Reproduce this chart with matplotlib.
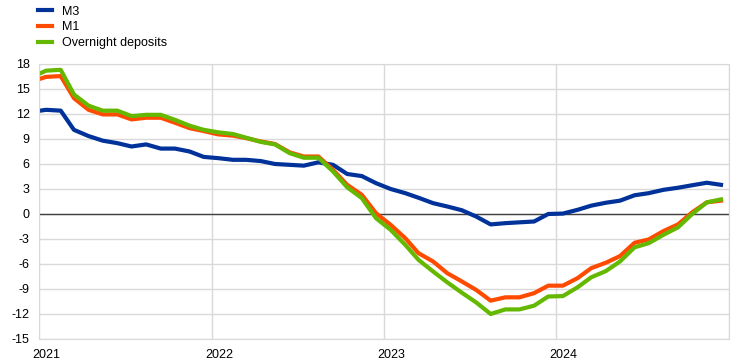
import numpy as np
import pandas as pd
import matplotlib
matplotlib.use('Agg')
import matplotlib.pyplot as plt

plt.rcParams['font.family'] = ['Liberation Sans', 'DejaVu Sans']

# monthly observations, plotted mid-month (Dec 2020 - Dec 2024)
months = pd.date_range('2020-12-01', '2024-12-01', freq='MS') + pd.Timedelta(days=14)

m3 = [12.25, 12.5, 12.4, 10.1, 9.35, 8.8, 8.5, 8.1, 8.35, 7.85, 7.85, 7.5, 6.85,
      6.7, 6.5, 6.5, 6.35, 6.0, 5.9, 5.8, 6.2, 5.9, 4.8, 4.55, 3.7,
      3.0, 2.5, 1.95, 1.3, 0.9, 0.45, -0.3, -1.25, -1.1, -1.0, -0.9, 0.0,
      0.05, 0.5, 1.0, 1.35, 1.6, 2.25, 2.5, 2.9, 3.15, 3.45, 3.75, 3.5]
m1 = [15.9, 16.45, 16.55, 13.9, 12.5, 11.95, 11.95, 11.35, 11.55, 11.55, 10.95, 10.3, 9.95,
      9.55, 9.4, 9.1, 8.7, 8.4, 7.4, 6.9, 6.9, 5.3, 3.5, 2.3, 0.1,
      -1.3, -2.9, -4.7, -5.7, -7.1, -8.1, -9.1, -10.4, -10.0, -10.0, -9.5, -8.6,
      -8.6, -7.7, -6.5, -5.85, -5.05, -3.45, -3.05, -2.05, -1.25, 0.2, 1.4, 1.6]
overnight = [16.4, 17.2, 17.3, 14.35, 13.0, 12.4, 12.4, 11.75, 11.9, 11.9, 11.3, 10.6, 10.1,
             9.8, 9.6, 9.15, 8.65, 8.35, 7.3, 6.75, 6.75, 5.1, 3.2, 1.9, -0.5,
             -1.9, -3.7, -5.5, -6.9, -8.2, -9.45, -10.6, -12.0, -11.45, -11.45, -11.0, -9.9,
             -9.85, -8.8, -7.6, -6.85, -5.7, -4.0, -3.5, -2.5, -1.6, 0.0, 1.4, 1.75]

labels = ['M3', 'M1', 'Overnight deposits']
colors = ['#003299', '#ff4b00', '#65b800']
yticks = np.arange(-15, 19, 3)
years = ['2021', '2022', '2023', '2024']

fig = plt.figure(figsize=(7.42, 3.64), dpi=100)
ax = fig.add_axes([0.0532, 0.0687, 0.9293, 0.7555])

for series, label, color in zip([m3, m1, overnight], labels, colors):
    ax.plot(months, series, color=color, lw=3, label=label, solid_joinstyle='round')

ax.axhline(0, color='#404040', lw=1, zorder=1)

ax.set_xlim(pd.Timestamp('2021-01-01'), pd.Timestamp('2025-01-01'))
ax.set_ylim(-15, 18)
ax.set_yticks(yticks)
ax.set_yticklabels([str(v) for v in yticks])

# gridlines on 1 January, year labels sit mid-January
ax.set_xticks([pd.Timestamp(f'{y}-01-01') for y in years + ['2025']])
ax.set_xticklabels([''] * 5)
ax.set_xticks([pd.Timestamp(f'{y}-01-16') for y in years], minor=True)
ax.set_xticklabels(years, minor=True)

ax.grid(True, which='major', color='#d9d9d9', lw=1, zorder=0)
ax.set_axisbelow(True)
for s in ax.spines.values():
    s.set_color('#d9d9d9')
ax.tick_params(which='both', length=0, labelsize=9, colors='#000000')
ax.tick_params(axis='y', pad=7)
ax.tick_params(axis='x', which='both', pad=7)

fig.legend(loc='upper left', bbox_to_anchor=(0.045, 0.998), frameon=False, fontsize=9,
           handlelength=1.05, handletextpad=0.8, labelspacing=0.3, borderaxespad=0)

plt.savefig('out.png', dpi=100)
